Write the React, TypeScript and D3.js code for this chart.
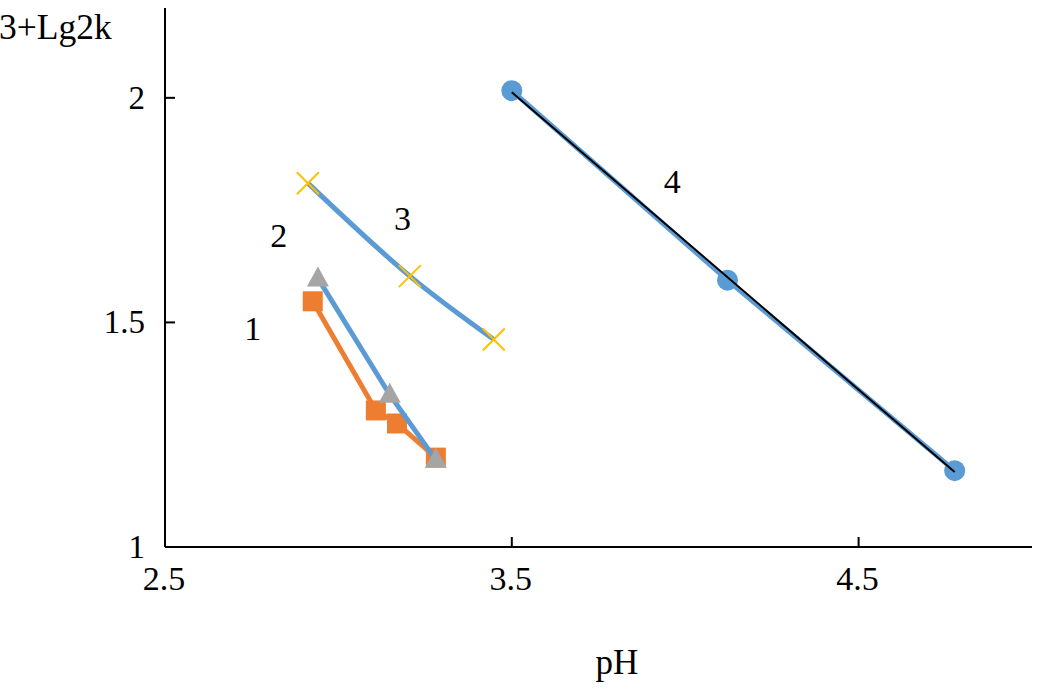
import React from "react";
import * as d3 from "d3";

const W = 1039;
const H = 694;

const xTicks = [2.5, 3.5, 4.5];
const yTicks = [1, 1.5, 2];

const s1x = [2.926, 3.108, 3.169, 3.281];
const s1y = [1.547, 1.304, 1.275, 1.199];
const s2x = [2.941, 3.148, 3.281];
const s2y = [1.598, 1.339, 1.194];
const s3x = [2.912, 3.206, 3.448];
const s3y = [1.81, 1.603, 1.462];
const s4x = [3.5, 4.122, 4.777];
const s4y = [2.016, 1.594, 1.17];

const labelText = ["1", "2", "3", "4"];
const labelX = [2.753, 2.828, 3.185, 3.963];
const labelY = [1.486, 1.693, 1.731, 1.812];

const FONT = "Liberation Serif";

export default function App() {
  const x = d3.scaleLinear().domain([2.5, 5.0]).range([165, 1032]);
  const y = d3.scaleLinear().domain([1, 2.2]).range([547, 8]);

  const pts = (xs: number[], ys: number[]) => xs.map((v, i) => [v, ys[i]] as [number, number]);
  const lin = d3.line<[number, number]>().x((d) => x(d[0])).y((d) => y(d[1]));
  const smooth = d3
    .line<[number, number]>()
    .x((d) => x(d[0]))
    .y((d) => y(d[1]))
    .curve(d3.curveCatmullRom.alpha(0.5));

  const p1 = pts(s1x, s1y);
  const p2 = pts(s2x, s2y);
  const p3 = pts(s3x, s3y);
  const p4 = pts(s4x, s4y);

  const mx = d3.mean(s4x)!;
  const my = d3.mean(s4y)!;
  const slope =
    d3.sum(s4x.map((v, i) => (v - mx) * (s4y[i] - my))) / d3.sum(s4x.map((v) => (v - mx) * (v - mx)));
  const icpt = my - slope * mx;
  const trend: [number, number][] = [
    [s4x[0], icpt + slope * s4x[0]],
    [s4x[s4x.length - 1], icpt + slope * s4x[s4x.length - 1]],
  ];

  const orange = "#ED7D31";
  const blue = "#5B9BD5";
  const gray = "#A5A5A5";
  const yellow = "#FFC000";
  const ts = { fontFamily: FONT };

  return (
    <svg width={W} height={H} style={{ position: "absolute", left: 0, top: 0, background: "#fff" }}>
      <line x1={x(2.5)} x2={x(2.5)} y1={y(2.2)} y2={y(1)} stroke="#000" strokeWidth={2} />
      <line x1={x(2.5)} x2={x(5.0)} y1={y(1)} y2={y(1)} stroke="#000" strokeWidth={2} />
      {yTicks.map((t) => (
        <g key={"yt" + t}>
          <line x1={x(2.5)} x2={x(2.5) + 10} y1={y(t)} y2={y(t)} stroke="#000" strokeWidth={2} />
          <text x={145} y={y(t) + 11} textAnchor="end" style={ts} fontSize={33} fill="#000">
            {t}
          </text>
        </g>
      ))}
      {xTicks.map((t) => (
        <g key={"xt" + t}>
          <line x1={x(t)} x2={x(t)} y1={y(1)} y2={y(1) - 10} stroke="#000" strokeWidth={2} />
          <text x={x(t) - 1} y={590} textAnchor="middle" style={ts} fontSize={34} fill="#000">
            {t}
          </text>
        </g>
      ))}
      <text x={-1} y={39} style={ts} fontSize={35.5} fill="#000">
        3+Lg2k
      </text>
      <text x={617} y={674} textAnchor="middle" style={ts} fontSize={35} fill="#000">
        pH
      </text>

      <path d={lin(p1)!} fill="none" stroke={orange} strokeWidth={5} />
      {p1.map((d, i) => (
        <rect key={"s1" + i} x={x(d[0]) - 10} y={y(d[1]) - 10} width={20} height={20} fill={orange} />
      ))}
      <path d={lin(p2)!} fill="none" stroke={blue} strokeWidth={5} />
      {p2.map((d, i) => {
        const cx = x(d[0]);
        const cy = y(d[1]);
        return (
          <path
            key={"s2" + i}
            d={`M${cx},${cy - 12}L${cx + 11},${cy + 8}L${cx - 11},${cy + 8}Z`}
            fill={gray}
          />
        );
      })}
      <path d={smooth(p3)!} fill="none" stroke={blue} strokeWidth={5} />
      {p3.map((d, i) => {
        const cx = x(d[0]);
        const cy = y(d[1]);
        const r = 11;
        return (
          <path
            key={"s3" + i}
            d={`M${cx - r},${cy - r}L${cx + r},${cy + r}M${cx + r},${cy - r}L${cx - r},${cy + r}`}
            stroke={yellow}
            strokeWidth={2}
            fill="none"
          />
        );
      })}
      <path d={lin(p4)!} fill="none" stroke={blue} strokeWidth={5} />
      {p4.map((d, i) => (
        <circle key={"s4" + i} cx={x(d[0])} cy={y(d[1])} r={10.5} fill={blue} />
      ))}
      <path d={lin(trend)!} fill="none" stroke="#000" strokeWidth={2} />

      {labelText.map((t, i) => (
        <text
          key={"lb" + i}
          x={x(labelX[i])}
          y={y(labelY[i]) + 11}
          textAnchor="middle"
          style={ts}
          fontSize={34}
          fill="#000"
        >
          {t}
        </text>
      ))}
    </svg>
  );
}
